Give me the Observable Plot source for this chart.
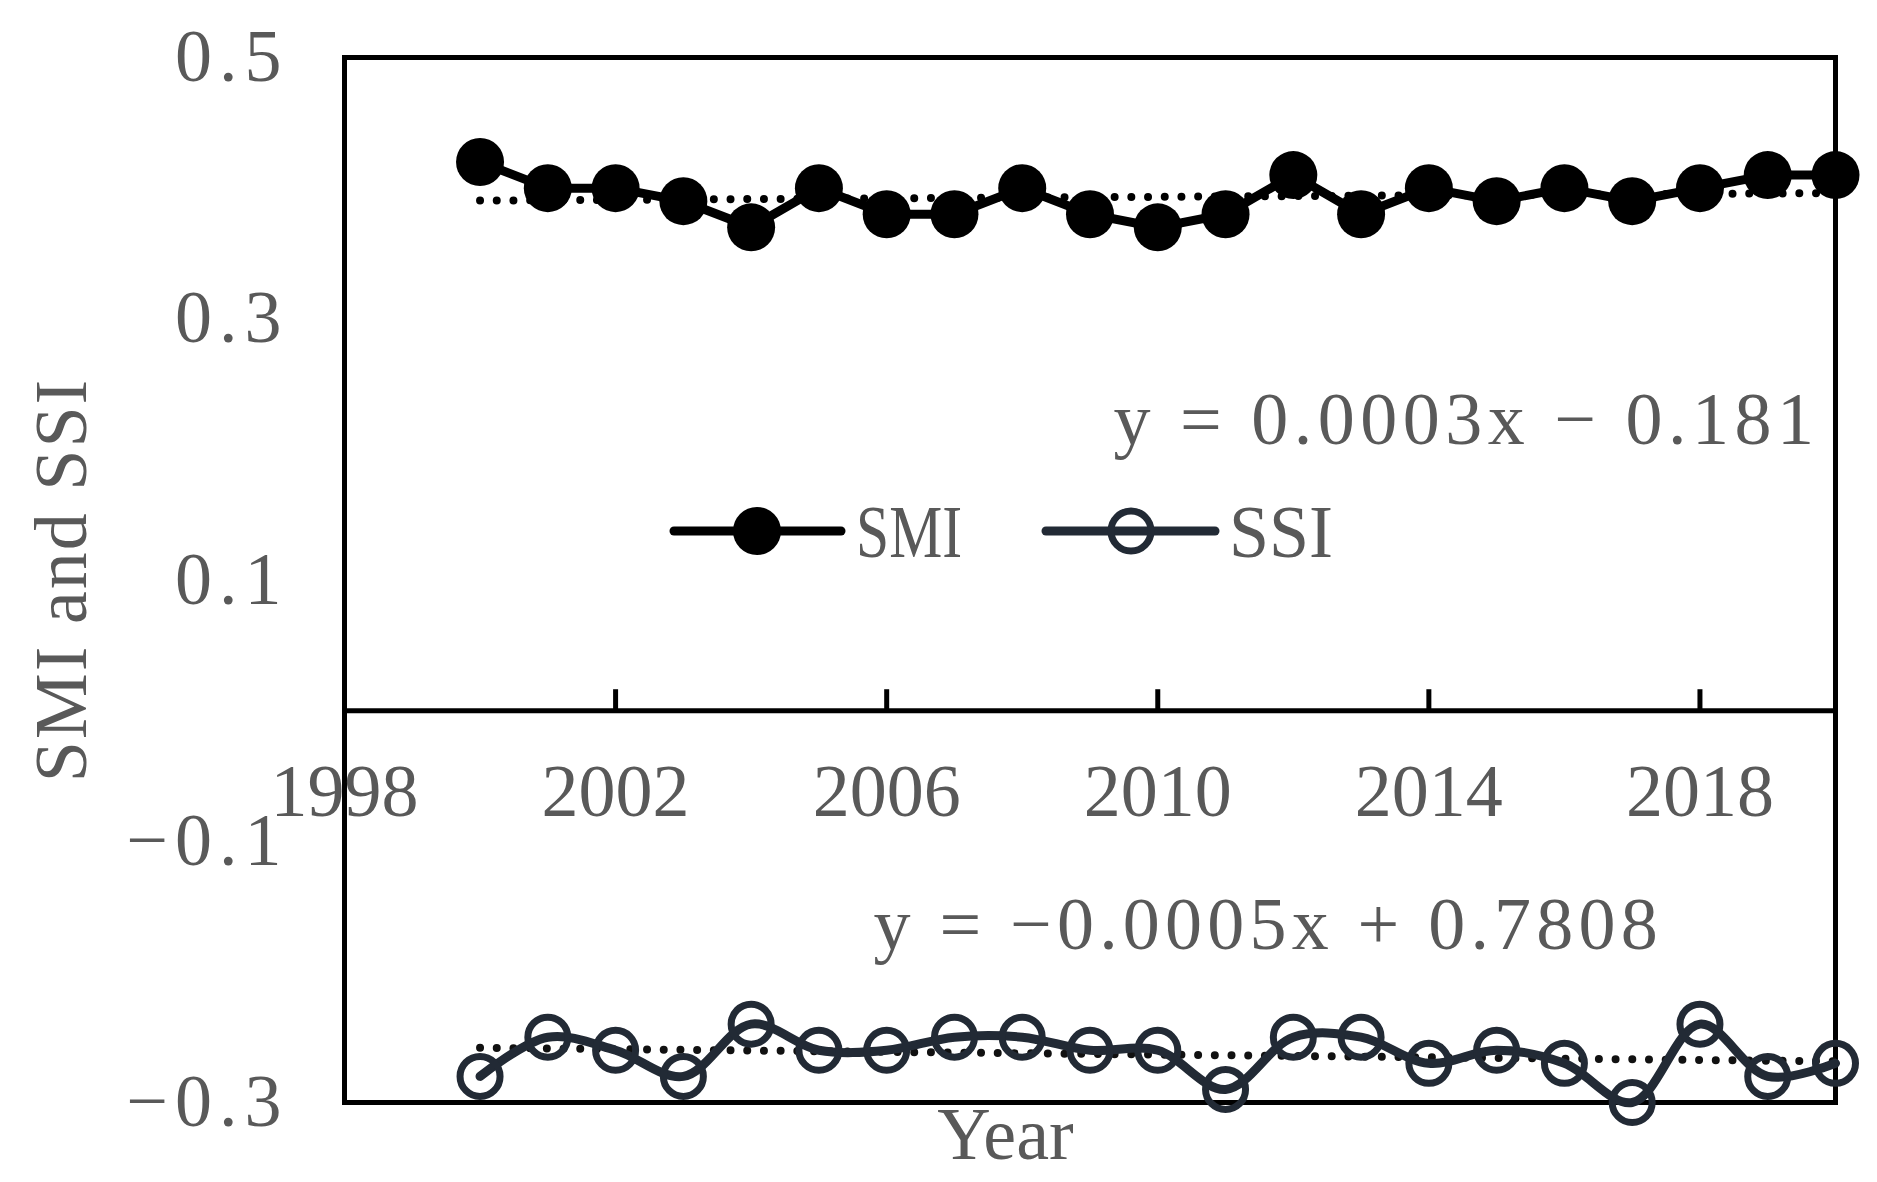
<!DOCTYPE html>
<html>
<head>
<meta charset="utf-8">
<script src="https://cdn.jsdelivr.net/npm/d3@7"></script>
<script src="https://cdn.jsdelivr.net/npm/@observablehq/plot@0.6"></script>
<style>
  html, body { margin: 0; padding: 0; background: #fff; }
  #wrap { position: relative; width: 1877px; height: 1182px; overflow: hidden; }
  #legend { position: absolute; left: 0; top: 0; pointer-events: none; }
</style>
</head>
<body>
<div id="wrap"></div>
<script>
// ---- data ----
const years = [2000, 2001, 2002, 2003, 2004, 2005, 2006, 2007, 2008, 2009, 2010,
               2011, 2012, 2013, 2014, 2015, 2016, 2017, 2018, 2019, 2020];
const smi = [0.42, 0.40, 0.40, 0.39, 0.37, 0.40, 0.38, 0.38, 0.40, 0.38, 0.37,
             0.38, 0.41, 0.38, 0.40, 0.39, 0.40, 0.39, 0.40, 0.41, 0.41];
const ssi = [-0.28, -0.25, -0.26, -0.28, -0.24, -0.26, -0.26, -0.25, -0.25, -0.26, -0.26,
             -0.29, -0.25, -0.25, -0.27, -0.26, -0.27, -0.30, -0.24, -0.28, -0.27];
const xTicks = [1998, 2002, 2006, 2010, 2014, 2018];
const yTicks = [0.5, 0.3, 0.1, -0.1, -0.3];
const seriesNames = ["SMI", "SSI"];
const equationLabels = ["y = 0.0003x \u2212 0.181", "y = \u22120.0005x + 0.7808"];
const xTitle = "Year";
const yTitle = "SMI and SSI";

// ---- derived tables ----
const smiData = years.map((year, i) => ({year, value: smi[i]}));
const ssiData = years.map((year, i) => ({year, value: ssi[i]}));
const fmtY = d3.format(".1f");
const yTickLabels = yTicks.map(fmtY);

const FONT = '"Liberation Serif", "Times New Roman", serif';
const GRAY = "#595959";
const SSI_COLOR = "#222a35";
const FS = 74;

const chart = Plot.plot({
  width: 1877,
  height: 1182,
  marginLeft: 344,
  marginRight: 42,
  marginTop: 57,
  marginBottom: 80,
  x: {domain: [1998, 2020], axis: null},
  y: {domain: [-0.3, 0.5], axis: null},
  style: {background: "#fff", overflow: "visible"},
  marks: [
    Plot.frame({stroke: "#000", strokeWidth: 5}),
    Plot.ruleY([0], {stroke: "#000", strokeWidth: 5}),
    Plot.ruleX(xTicks.slice(1), {x: d => d, y1: () => 0, y2: () => 0.016, stroke: "#000", strokeWidth: 5}),
    // x tick labels
    Plot.text(xTicks, {x: d => d, y: () => 0, dy: 82, text: d => String(d),
      fontSize: FS, fontFamily: FONT, fill: GRAY}),
    // y tick labels
    Plot.text(yTicks, {y: d => d, frameAnchor: "left", dx: -56, textAnchor: "end", lineAnchor: "middle",
      text: d => fmtY(d), fontSize: FS, fontFamily: FONT, fill: GRAY}),
    // axis titles
    Plot.text([yTitle], {frameAnchor: "left", dx: -282, rotate: -90, textAnchor: "middle", lineAnchor: "middle",
      fontSize: FS, fontFamily: FONT, fill: GRAY}),
    Plot.text([xTitle], {frameAnchor: "top-left", dx: 661, dy: 1078, textAnchor: "middle", lineAnchor: "middle",
      fontSize: FS, fontFamily: FONT, fill: GRAY}),
    // trend equations
    Plot.text([equationLabels[0]], {frameAnchor: "top-left", dx: 769, dy: 363, textAnchor: "start", lineAnchor: "middle",
      fontSize: FS, fontFamily: FONT, fill: GRAY}),
    Plot.text([equationLabels[1]], {frameAnchor: "top-left", dx: 529, dy: 868, textAnchor: "start", lineAnchor: "middle",
      fontSize: FS, fontFamily: FONT, fill: GRAY}),
    // trend lines
    Plot.linearRegressionY(smiData, {x: "year", y: "value", ci: 0, stroke: "#000",
      strokeWidth: 8, strokeDasharray: "0,16.7", strokeLinecap: "round"}),
    Plot.linearRegressionY(ssiData, {x: "year", y: "value", ci: 0, stroke: "#111",
      strokeWidth: 8, strokeDasharray: "0,16.7", strokeLinecap: "round"}),
    // series
    Plot.line(smiData, {x: "year", y: "value", stroke: "#000", strokeWidth: 9}),
    Plot.dot(smiData, {x: "year", y: "value", r: 24, fill: "#000", stroke: "none"}),
    Plot.line(ssiData, {x: "year", y: "value", curve: "catmull-rom", stroke: SSI_COLOR, strokeWidth: 9}),
    Plot.dot(ssiData, {x: "year", y: "value", r: 20, fill: "none", stroke: SSI_COLOR, strokeWidth: 7})
  ]
});

// letter spacing to mimic the wide (SimSun-like) glyph advances of the original
d3.select(chart).selectAll("text").each(function() {
  const t = this.textContent;
  const s = d3.select(this);
  if (t === equationLabels[0]) s.style("letter-spacing", "5.5px");
  else if (t === equationLabels[1]) s.style("letter-spacing", "5.2px");
  else if (yTickLabels.includes(t)) s.style("letter-spacing", "7px");
  else if (t === yTitle) s.style("letter-spacing", "2px");
});

const wrap = document.getElementById("wrap");
wrap.appendChild(chart);

// ---- legend (inside plot area, like the reference) ----
const leg = d3.select(wrap).append("svg").attr("id", "legend")
  .attr("width", 1877).attr("height", 1182);
const legendItems = [
  {name: seriesNames[0], x0: 674, x1: 841, cx: 757, tx: 856, tl: 106, color: "#000", filled: true},
  {name: seriesNames[1], x0: 1046, x1: 1215, cx: 1131, tx: 1229, tl: 104, color: SSI_COLOR, filled: false}
];
const LY = 531;
for (const it of legendItems) {
  leg.append("line").attr("x1", it.x0).attr("x2", it.x1).attr("y1", LY).attr("y2", LY)
    .attr("stroke", it.color).attr("stroke-width", 9).attr("stroke-linecap", "round");
  if (it.filled) {
    leg.append("circle").attr("cx", it.cx).attr("cy", LY).attr("r", 24).attr("fill", it.color);
  } else {
    leg.append("circle").attr("cx", it.cx).attr("cy", LY).attr("r", 20)
      .attr("fill", "none").attr("stroke", it.color).attr("stroke-width", 7);
  }
  leg.append("text").attr("x", it.tx).attr("y", LY).attr("dy", "0.35em")
    .attr("textLength", it.tl).attr("lengthAdjust", "spacingAndGlyphs")
    .attr("font-family", FONT).attr("font-size", FS).attr("fill", GRAY).text(it.name);
}
</script>
</body>
</html>
